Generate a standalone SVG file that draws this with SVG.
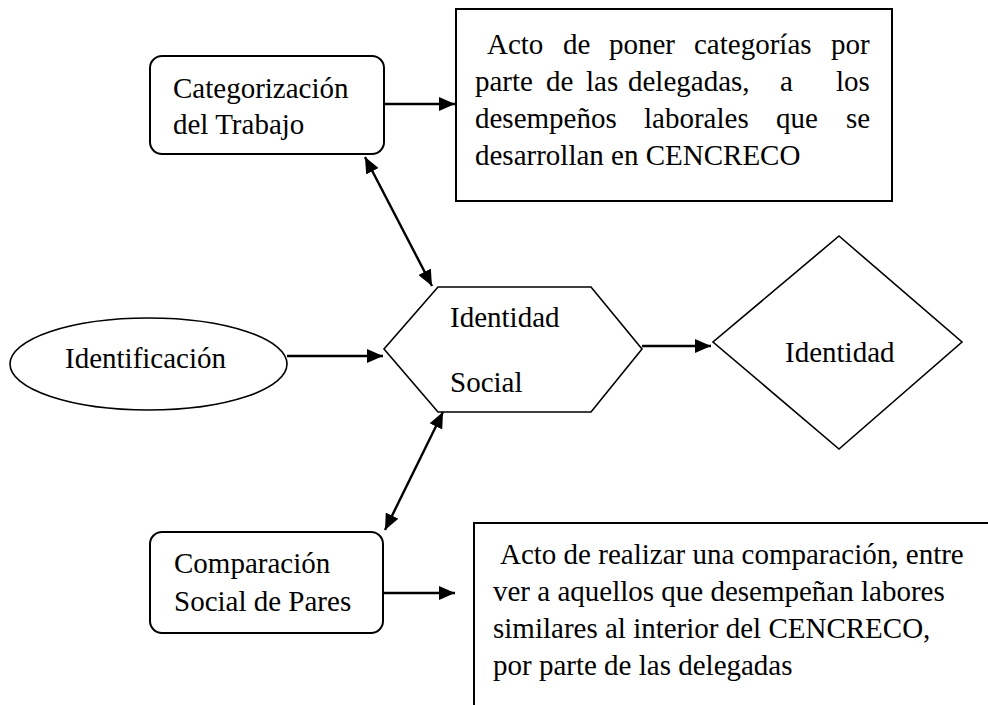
<svg xmlns="http://www.w3.org/2000/svg" width="988" height="705" viewBox="0 0 988 705">
<style>
text{font-family:"Liberation Serif","Times New Roman",serif;font-size:29px;fill:#000}
.shape{fill:#fff;stroke:#000;stroke-width:2}
.thin{fill:#fff;stroke:#000;stroke-width:1.6}
.conn{stroke:#000;stroke-width:2.4;fill:none}
</style>
<defs>
<marker id="ah" markerUnits="userSpaceOnUse" markerWidth="17" markerHeight="14" refX="16" refY="7" orient="auto-start-reverse">
<path d="M0,0 L16,7 L0,14 z" fill="#000"/>
</marker>
</defs>
<rect width="988" height="705" fill="#fff"/>
<g id="categorizacion">
<rect class="shape" x="150" y="56" width="234" height="98" rx="12"/>
<text x="173" y="98">Categorización</text>
<text x="173" y="134">del Trabajo</text>
</g>
<g id="desc-categorizacion">
<rect class="shape" x="456" y="9" width="436" height="192"/>
<text y="54"><tspan x="487">Acto</tspan><tspan x="563">de</tspan><tspan x="609">poner</tspan><tspan x="694">categorías</tspan><tspan x="831">por</tspan></text>
<text y="91"><tspan x="475">parte</tspan><tspan x="546">de</tspan><tspan x="586">las</tspan><tspan x="628">delegadas,</tspan><tspan x="780">a</tspan><tspan x="836">los</tspan></text>
<text y="128"><tspan x="475">desempeños</tspan><tspan x="644">laborales</tspan><tspan x="776">que</tspan><tspan x="846">se</tspan></text>
<text x="475" y="165">desarrollan en CENCRECO</text>
</g>
<g id="identificacion">
<ellipse class="thin" cx="148.5" cy="364" rx="138.5" ry="46"/>
<text x="65" y="368">Identificación</text>
</g>
<g id="identidad-social">
<polygon class="thin" points="384,349 438,287 591,287 642,349 591,412 438,412"/>
<text x="450" y="327">Identidad</text>
<text x="450" y="392">Social</text>
</g>
<g id="identidad">
<polygon class="thin" points="839,236 962,342 839,449 713,342"/>
<text x="785" y="362">Identidad</text>
</g>
<g id="comparacion">
<rect class="shape" x="150" y="532" width="233" height="101" rx="12"/>
<text x="174" y="573">Comparación</text>
<text x="174" y="611">Social de Pares</text>
</g>
<g id="desc-comparacion">
<rect class="shape" x="474" y="523" width="540" height="200"/>
<text x="500" y="564"> Acto de realizar una comparación, entre</text>
<text x="493" y="601">ver a aquellos que desempeñan labores</text>
<text x="493" y="638">similares al interior del CENCRECO,</text>
<text x="493" y="675">por parte de las delegadas</text>
</g>
<g id="connectors">
<line class="conn" x1="384" y1="104" x2="455" y2="104" marker-end="url(#ah)"/>
<line class="conn" x1="365" y1="157" x2="432" y2="286" marker-start="url(#ah)" marker-end="url(#ah)"/>
<line class="conn" x1="287" y1="356" x2="383" y2="356" marker-end="url(#ah)"/>
<line class="conn" x1="642" y1="346" x2="711" y2="346" marker-end="url(#ah)"/>
<line class="conn" x1="443" y1="412" x2="385" y2="530" marker-start="url(#ah)" marker-end="url(#ah)"/>
<line class="conn" x1="383" y1="593" x2="455" y2="593" marker-end="url(#ah)"/>
</g>
</svg>
